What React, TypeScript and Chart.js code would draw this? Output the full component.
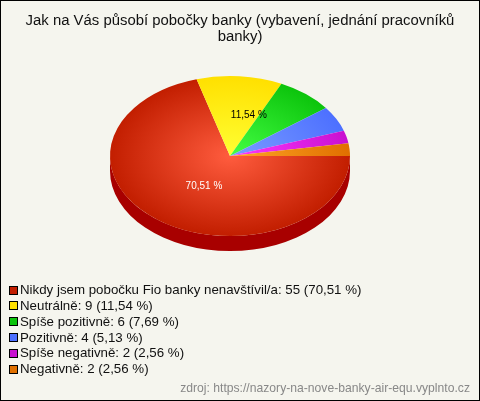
import React, { useEffect, useRef } from "react";
import { Chart, registerables } from "chart.js";

Chart.register(...registerables);

const titleLines = ["Jak na Vás působí pobočky banky (vybavení, jednání pracovníků", "banky)"];
const categories = ["Nikdy jsem pobočku Fio banky nenavštívil/a", "Neutrálně", "Spíše pozitivně", "Pozitivně", "Spíše negativně", "Negativně"];
const counts = [55, 9, 6, 4, 2, 2];
const percents = ["70,51", "11,54", "7,69", "5,13", "2,56", "2,56"];
const inner = ["#ff5c3e", "#ffff33", "#44ff44", "#7a9cff", "#ff38ff", "#ffa526"];
const outer = ["#c21e00", "#ffe000", "#0cc40c", "#4d70ff", "#c810d0", "#e07000"];
const side = ["#a80000", "#b89c00", "#088a08", "#3450b0", "#8a0a90", "#a05000"];
const sourceText = "zdroj: https://nazory-na-nove-banky-air-equ.vyplnto.cz";
const BG = "#f5f5ee";
const FONT = '"Liberation Sans", Arial, sans-serif';
const SQUASH = 2 / 3;
const DEPTH = 15;
const RADIUS = 120;

const pie3d = {
  id: "pie3d",
  afterLayout(chart: any) {
    const area = chart.chartArea;
    area.left = 110;
    area.right = 350;
    area.width = 240;
  },
  beforeDraw(chart: any) {
    const { ctx, width, height } = chart;
    ctx.save();
    ctx.fillStyle = BG;
    ctx.fillRect(0, 0, width, height);
    ctx.restore();
  },
  beforeDatasetsDraw(chart: any) {
    const { ctx } = chart;
    const arcs = chart.getDatasetMeta(0).data;
    ctx.save();
    arcs.forEach((arc: any, i: number) => {
      const a0 = Math.max(arc.startAngle, 0);
      const a1 = Math.min(arc.endAngle, Math.PI);
      if (a1 <= a0) return;
      const rx = arc.outerRadius;
      const ry = rx * SQUASH;
      ctx.beginPath();
      ctx.ellipse(arc.x, arc.y + DEPTH, rx, ry, 0, a0, a1);
      ctx.ellipse(arc.x, arc.y, rx, ry, 0, a1, a0, true);
      ctx.closePath();
      ctx.fillStyle = side[i];
      ctx.fill();
    });
    ctx.restore();
    const first = arcs[0];
    ctx.save();
    ctx.translate(first.x, first.y);
    ctx.scale(1, SQUASH);
    ctx.translate(-first.x, -first.y);
  },
  afterDatasetsDraw(chart: any) {
    chart.ctx.restore();
  },
  afterDraw(chart: any) {
    const { ctx, width, height } = chart;
    const arcs = chart.getDatasetMeta(0).data;
    ctx.save();
    // slice labels
    ctx.font = `10px ${FONT}`;
    ctx.textAlign = "center";
    ctx.textBaseline = "middle";
    [0, 1].forEach((i) => {
      const arc = arcs[i];
      const mid = (arc.startAngle + arc.endAngle) / 2;
      const shift = i === 0 ? 10 : 14;
      ctx.fillStyle = i === 0 ? "#ffffff" : "#000000";
      ctx.fillText(
        `${percents[i]} %`,
        arc.x + Math.cos(mid) * RADIUS * 0.5 + shift,
        arc.y + Math.sin(mid) * RADIUS * 0.5 * SQUASH + (i === 0 ? -2 : -1)
      );
    });
    // legend
    ctx.font = `13.3px ${FONT}`;
    ctx.textAlign = "left";
    categories.forEach((c, i) => {
      const y = 290.5 + i * 15.8;
      ctx.fillStyle = outer[i];
      ctx.fillRect(10, Math.round(y) - 4, 7, 7);
      ctx.strokeStyle = "#000000";
      ctx.lineWidth = 1;
      ctx.strokeRect(9.5, Math.round(y) - 4.5, 8, 8);
      ctx.fillStyle = "#111111";
      ctx.fillText(`${c}: ${counts[i]} (${percents[i]} %)`, 20, y);
    });
    // source
    ctx.font = `12.17px ${FONT}`;
    ctx.textAlign = "right";
    ctx.fillStyle = "#888888";
    ctx.fillText(sourceText, 470, 389);
    // border
    ctx.strokeStyle = "#000000";
    ctx.lineWidth = 1;
    ctx.strokeRect(0.5, 0.5, width - 1, height - 1);
    ctx.restore();
  },
};

export default function App() {
  const ref = useRef<HTMLCanvasElement>(null);
  useEffect(() => {
    document.body.style.margin = "0";
    const chart = new Chart(ref.current as HTMLCanvasElement, {
      type: "pie",
      data: {
        labels: categories,
        datasets: [
          {
            data: counts,
            borderWidth: 0,
            backgroundColor: (c: any) => {
              const { chart: ch, dataIndex } = c;
              const area = ch.chartArea;
              if (!area) return outer[dataIndex];
              const cx = (area.left + area.right) / 2;
              const cy = (area.top + area.bottom) / 2;
              const g = ch.ctx.createRadialGradient(cx, cy, 0, cx, cy, RADIUS);
              g.addColorStop(0, inner[dataIndex]);
              g.addColorStop(1, outer[dataIndex]);
              return g;
            },
          },
        ],
      },
      options: {
        responsive: false,
        animation: false,
        rotation: 90,
        radius: RADIUS,
        devicePixelRatio: 1,
        events: [],
        layout: { padding: { left: 0, right: 0, top: 0, bottom: 134 } },
        plugins: {
          legend: { display: false },
          tooltip: { enabled: false },
          title: {
            display: true,
            text: titleLines,
            color: "#111111",
            font: { family: FONT, size: 14.9, weight: "normal", lineHeight: 16 / 14.9 },
            padding: { top: 13, bottom: 0 },
          },
        },
      },
      plugins: [pie3d],
    } as any);
    return () => chart.destroy();
  }, []);
  return <canvas ref={ref} width={480} height={401} style={{ display: "block" }} />;
}
